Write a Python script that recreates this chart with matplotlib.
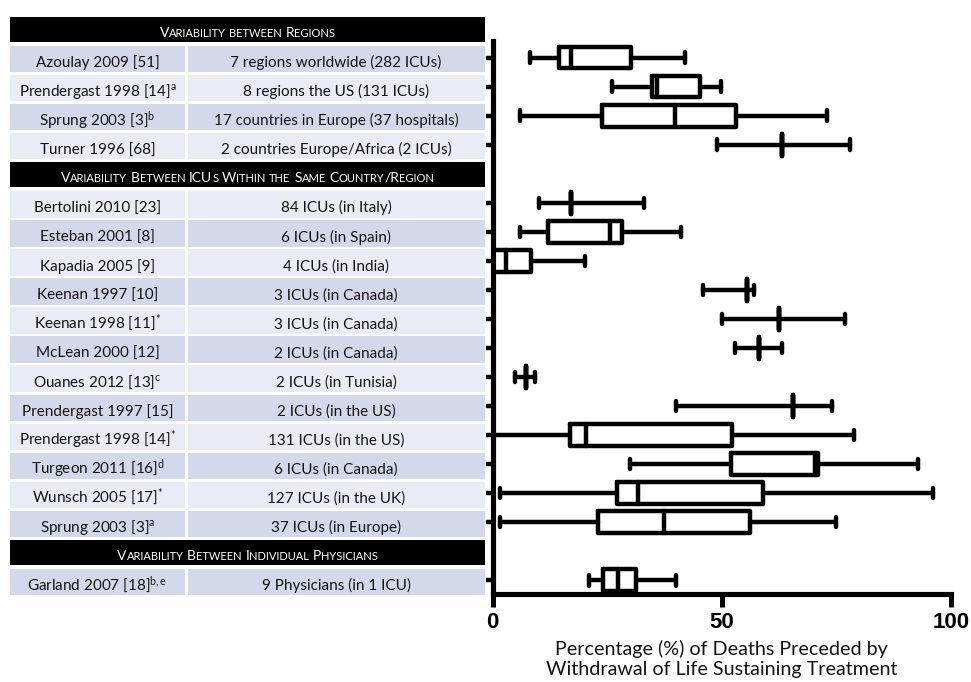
import matplotlib
matplotlib.use("Agg")
import matplotlib.pyplot as plt
from matplotlib.patches import Rectangle

plt.rcParams['font.family'] = ['Lato', 'DejaVu Sans']
plt.rcParams['mathtext.fontset'] = 'custom'
plt.rcParams['mathtext.rm'] = 'Lato'
plt.rcParams['mathtext.it'] = 'Lato:italic'
plt.rcParams['mathtext.bf'] = 'Lato:bold'

# ---- data ----
section_titles = ["Variability between Regions",
                  "Variability Between ICUs Within the Same Country/Region",
                  "Variability Between Individual Physicians"]
section_sizes = [4, 12, 1]

studies = ["Azoulay 2009 [51]",
           r"Prendergast 1998 [14]$^{\mathrm{a}}$",
           r"Sprung 2003 [3]$^{\mathrm{b}}$",
           "Turner 1996 [68]",
           "Bertolini 2010 [23]",
           "Esteban 2001 [8]",
           "Kapadia 2005 [9]",
           "Keenan 1997 [10]",
           r"Keenan 1998 [11]$^{*}$",
           "McLean 2000 [12]",
           r"Ouanes 2012 [13]$^{\mathrm{c}}$",
           "Prendergast 1997 [15]",
           r"Prendergast 1998 [14]$^{*}$",
           r"Turgeon 2011 [16]$^{\mathrm{d}}$",
           r"Wunsch 2005 [17]$^{*}$",
           r"Sprung 2003 [3]$^{\mathrm{a}}$",
           r"Garland 2007 [18]$^{\mathrm{b,e}}$"]

settings = ["7 regions worldwide (282 ICUs)",
            "8 regions the US (131 ICUs)",
            "17 countries in Europe (37 hospitals)",
            "2 countries Europe/Africa (2 ICUs)",
            "84 ICUs (in Italy)",
            "6 ICUs (in Spain)",
            "4 ICUs (in India)",
            "3 ICUs (in Canada)",
            "3 ICUs (in Canada)",
            "2 ICUs (in Canada)",
            "2 ICUs (in Tunisia)",
            "2 ICUs (in the US)",
            "131 ICUs (in the US)",
            "6 ICUs (in Canada)",
            "127 ICUs (in the UK)",
            "37 ICUs (in Europe)",
            "9 Physicians (in 1 ICU)"]

whislo = [8.1, 26.1, 6.1, 48.9, 10.1, 6.1, 0.0, 46.0, 50.0, 52.9, 5.0, 40.0, 0.0, 29.9, 1.7, 1.7, 21.0]
q1 = [14.4, 34.8, 23.9, 63.1, 17.1, 12.1, 0.0, 55.5, 62.5, 58.2, 7.2, 65.6, 17.0, 52.0, 27.2, 23.0, 24.1]
med = [17.2, 35.9, 39.7, 63.1, 17.1, 25.6, 3.0, 55.5, 62.5, 58.2, 7.2, 65.6, 20.5, 70.3, 31.7, 37.5, 27.4]
q3 = [30.3, 45.2, 53.2, 63.1, 17.1, 28.3, 8.3, 55.5, 62.5, 58.2, 7.2, 65.6, 52.2, 71.1, 59.1, 56.2, 31.2]
whishi = [42.0, 49.9, 72.9, 78.0, 33.1, 41.2, 20.1, 57.1, 76.9, 63.1, 9.2, 74.0, 78.9, 92.9, 96.0, 74.9, 40.1]

xlabel_lines = ["Percentage (%) of Deaths Preceded by",
                "Withdrawal of Life Sustaining Treatment"]

# ---- layout: slot positions ----
row_pos = []
header_pos = []
s = -1
for n in section_sizes:
    header_pos.append(s)
    s += 1
    for k in range(n):
        row_pos.append(s)
        s += 1

W, H = 971, 682
fig = plt.figure(figsize=(W / 100, H / 100), dpi=100)
renderer = fig.canvas.get_renderer()

# ---- table ----
tab = fig.add_axes([10 / W, 1 - 596 / H, 475 / W, (596 - 15.5) / H])
tab.set_xlim(10, 485)
tab.set_ylim(18.53, -1.45)
tab.axis('off')

dark = '#D3D9EA'
light = '#E9ECF4'
txtc = '#141414'


def smallcaps(ax, xc, y, text, big, small):
    # fake small caps: capitals at full size, lower case as smaller capitals
    words = text.split(' ')
    space = big * 0.26 * 100 / 72
    pieces = []
    total = 0
    for wi, word in enumerate(words):
        runs = []
        for ch in word:
            b = not ch.islower()
            if runs and runs[-1][1] == b:
                runs[-1][0] += ch
            else:
                runs.append([ch, b])
        for r, b in runs:
            t = ax.text(0, y, r.upper(), fontsize=big if b else small,
                        color='white', ha='left', va='baseline')
            w = t.get_window_extent(renderer).width
            pieces.append((t, w))
            total += w
        if wi < len(words) - 1:
            pieces.append((None, space))
            total += space
    x = xc - total / 2
    for t, w in pieces:
        if t is not None:
            t.set_x(x)
        x += w


for hp, title in zip(header_pos, section_titles):
    yc = hp + 0.03
    tab.add_patch(Rectangle((10, yc - 0.43), 475, 0.86, color='black', lw=0))
    smallcaps(tab, 247.5, yc + 0.25, title, 10, 8)

for i, (rp, st, se) in enumerate(zip(row_pos, studies, settings)):
    yc = rp + 0.05
    col = dark if rp % 2 == 0 else light
    tab.add_patch(Rectangle((10, yc - 0.455), 175, 0.91, color=col, lw=0))
    tab.add_patch(Rectangle((187.5, yc - 0.455), 297.5, 0.91, color=col, lw=0))
    tab.text(97.5, yc + 0.28, st, ha='center', va='baseline', fontsize=11, color=txtc)
    tab.text(336, yc + 0.28, se, ha='center', va='baseline', fontsize=11, color=txtc)

# ---- box plot ----
ax = fig.add_axes([492.5 / W, 1 - 594 / H, (951 - 492.5) / W, (594 - 41) / H])
stats = [dict(whislo=a, q1=b, med=c, q3=d, whishi=e)
         for a, b, c, d, e in zip(whislo, q1, med, q3, whishi)]
lw = 3.2
lp = dict(color='black', linewidth=lw, solid_capstyle='round', solid_joinstyle='round')
ax.bxp(stats, positions=row_pos, widths=0.75, capwidths=0.36,
       orientation='horizontal', showfliers=False,
       boxprops=lp, whiskerprops=lp, capprops=lp, medianprops=lp)
ax.set_xlim(0, 100)
ax.set_ylim(18.47, -0.57)
ax.set_yticks(row_pos)
ax.set_yticklabels([])
ax.set_xticks([0, 50, 100])
ax.set_xticklabels(['0', '50', '100'], fontfamily='Liberation Sans',
                   fontweight='bold', fontsize=16)
ax.tick_params(axis='y', length=4.7, width=3.2, direction='out')
ax.tick_params(axis='x', length=9, width=3.6, direction='out', pad=4)
for sp in ['top', 'right']:
    ax.spines[sp].set_visible(False)
for sp in ['left', 'bottom']:
    ax.spines[sp].set_linewidth(3.7)

fig.text(721.5 / W, 1 - 655 / H, xlabel_lines[0], ha='center', va='baseline',
         fontsize=14.2, color=txtc)
fig.text(721.5 / W, 1 - 675 / H, xlabel_lines[1], ha='center', va='baseline',
         fontsize=14.2, color=txtc)

fig.savefig('out.png', dpi=100)
